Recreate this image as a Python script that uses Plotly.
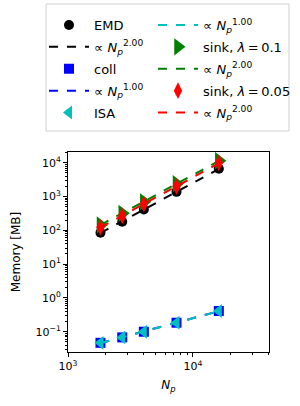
import numpy as np
import plotly.graph_objects as go

Np = [1820, 2720, 4050, 7400, 16150]
emd = [85, 180, 415, 1380, 6700]
coll = [0.047, 0.068, 0.10, 0.185, 0.41]
isa = [0.047, 0.068, 0.10, 0.185, 0.41]
sink01 = [145, 320, 700, 2400, 11500]
sink005 = [123, 270, 600, 2000, 10000]
exponents = {"emd": 2.0, "coll": 1.0, "isa": 1.0, "sink01": 2.0, "sink005": 2.0}

x = np.array(Np, dtype=float)


def fit(y, p):
    y = np.array(y, dtype=float)
    c = np.mean(np.log10(y) - p * np.log10(x))
    return (10 ** (c + p * np.log10(x))).tolist()


def fit_name(p):
    return "\u221d <i>N</i><sub><i>p</i></sub><sup>%.2f</sup>" % p


series = [
    ("EMD", emd, "black", "circle", 10, "emd"),
    ("coll", coll, "#0000ff", "square", 10, "coll"),
    ("ISA", isa, "#00bfbf", "triangle-left", 12, "isa"),
    ("sink, <i>\u03bb</i>\u2009=\u20090.1", sink01, "#008000", "triangle-right", 15, "sink01"),
    ("sink, <i>\u03bb</i>\u2009=\u20090.05", sink005, "#ff0000", "diamond-tall", 12, "sink005"),
]

fig = go.Figure()
traces = {}
for name, y, col, sym, sz, key in series:
    p = exponents[key]
    traces[key + "_m"] = go.Scatter(x=Np, y=y, mode="markers", name=name,
                                    marker=dict(color=col, symbol=sym, size=sz, line=dict(width=0)))
    traces[key + "_f"] = go.Scatter(x=Np, y=fit(y, p), mode="lines", name=fit_name(p),
                                    line=dict(color=col, dash="dash", width=2))

draw_order = ["emd_m", "emd_f", "coll_m", "coll_f", "isa_m", "isa_f",
              "sink01_m", "sink01_f", "sink005_m", "sink005_f"]
# matplotlib ncol=2 legend: first five entries in column 1, rest in column 2
for i, k in enumerate(draw_order):
    t = traces[k]
    t.legend = "legend" if i < 5 else "legend2"
    t.legendgroup = k
    t.legendrank = i + 1
    fig.add_trace(t)

W, H = 300, 406
ml, mr, mt, mb = 68, 31, 152, 54
pw, ph = W - ml - mr, H - mt - mb


def px_to_paper(px, py):
    return (px - ml) / pw, (H - mb - py) / ph


bx0, by0 = px_to_paper(46, 131)
bx1, by1 = px_to_paper(289, 4)
l1x, l1y = px_to_paper(44, 10)
l2x, l2y = px_to_paper(153, 10)

leg_common = dict(orientation="v", xref="paper", yref="paper",
                  xanchor="left", yanchor="top", font=dict(size=13),
                  tracegroupgap=2, itemwidth=40, traceorder="grouped",
                  bgcolor="rgba(0,0,0,0)", borderwidth=0)

yt = [-1, 0, 1, 2, 3, 4]
fig.update_layout(
    width=W, height=H,
    margin=dict(l=ml, r=mr, t=mt, b=mb, autoexpand=False),
    paper_bgcolor="white", plot_bgcolor="white",
    font=dict(family="DejaVu Sans", size=11, color="black"),
    legend=dict(x=l1x, y=l1y, **leg_common),
    legend2=dict(x=l2x, y=l2y, **leg_common),
    shapes=[dict(type="rect", xref="paper", yref="paper", x0=bx0, y0=by0, x1=bx1, y1=by1,
                 line=dict(color="#d0d0d0", width=1), layer="below")],
    xaxis=dict(type="log", range=[3, 4.61], showgrid=False, zeroline=False,
               showline=True, linecolor="black", linewidth=1, mirror=True,
               ticks="outside", ticklen=4, tickcolor="black",
               tickvals=[1000, 10000], ticktext=["10<sup>3</sup>", "10<sup>4</sup>"],
               minor=dict(ticks="outside", ticklen=2, tickcolor="black",
                          tickvals=[2000, 3000, 4000, 5000, 6000, 7000, 8000, 9000, 20000, 30000, 40000]),
               title=dict(text="<i>N<sub>p</sub></i>", font=dict(size=12), standoff=8)),
    yaxis=dict(type="log", range=[-1.6, 4.32], showgrid=False, zeroline=False,
               showline=True, linecolor="black", linewidth=1, mirror=True,
               ticks="outside", ticklen=4, tickcolor="black",
               tickvals=[10.0 ** e for e in yt],
               ticktext=["10<sup>%s</sup>" % (str(e).replace("-", "\u2212")) for e in yt],
               minor=dict(ticks="outside", ticklen=2, tickcolor="black", dtick="D1"),
               title=dict(text="Memory [MB]", font=dict(size=12), standoff=12)),
)

fig.write_html("out.html", config={"displayModeBar": False},
               post_script="document.body.style.margin='0';")
